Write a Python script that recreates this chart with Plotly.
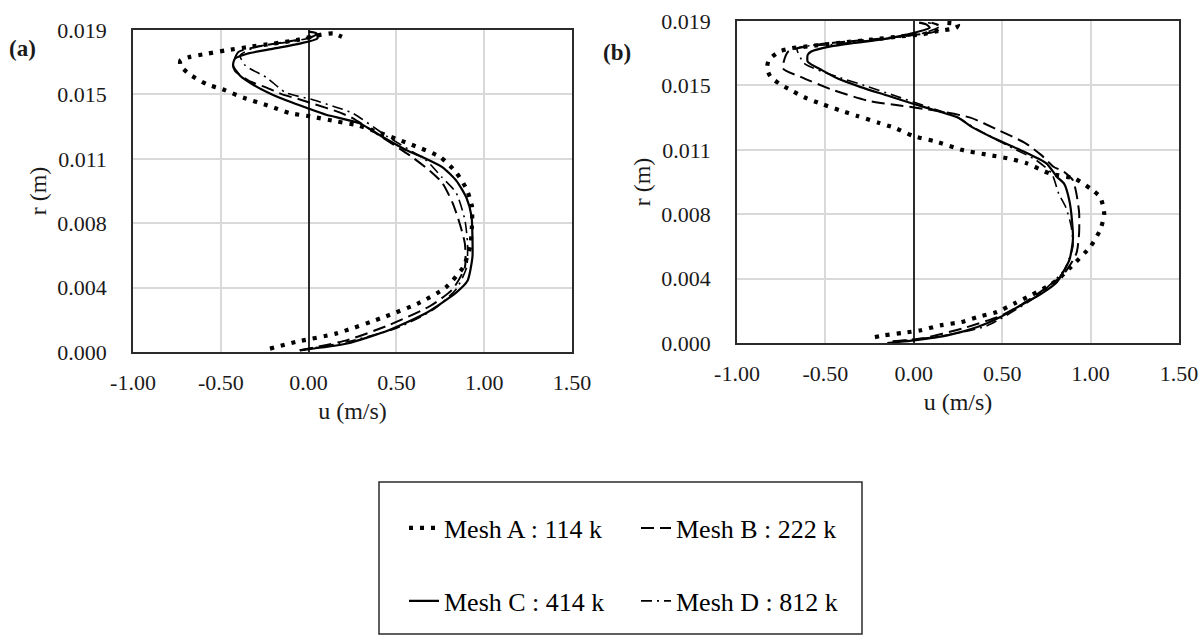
import plotly.graph_objects as go

W, H = 1203, 635

# ---------------- data: panel (a) ----------------
a_meshA_u = [-0.22, -0.07, 0.16, 0.44, 0.63, 0.78, 0.88, 0.92, 0.93, 0.93, 0.90, 0.84, 0.75, 0.57, 0.36, 0.27, 0.16,
             0.01, -0.11, -0.22, -0.37, -0.49, -0.58, -0.68, -0.73, -0.73, -0.68, -0.58, -0.47, -0.34, -0.20, -0.07,
             0.06, 0.14, 0.19]
a_meshA_r = [0.0002, 0.0006, 0.0011, 0.0021, 0.0029, 0.0038, 0.0050, 0.0062, 0.0074, 0.0086, 0.0096, 0.0106, 0.0115,
             0.0123, 0.0131, 0.0134, 0.0136, 0.0139, 0.0141, 0.0145, 0.0150, 0.0155, 0.0158, 0.0164, 0.0169, 0.0172,
             0.0174, 0.0176, 0.0178, 0.0180, 0.0182, 0.0184, 0.0187, 0.0188, 0.0186]

a_meshB_u = [-0.05, 0.22, 0.46, 0.69, 0.82, 0.89, 0.89, 0.86, 0.82, 0.76, 0.69, 0.59, 0.40, 0.25, 0.16, 0.04, -0.05,
             -0.15, -0.24, -0.34, -0.42, -0.43, -0.40, -0.30, -0.13, 0.02, 0.05, 0.02]
a_meshB_r = [0.0001, 0.0007, 0.0016, 0.0027, 0.0037, 0.0050, 0.0064, 0.0076, 0.0088, 0.0100, 0.0107, 0.0115, 0.0128,
             0.0138, 0.0142, 0.0146, 0.0149, 0.0152, 0.0156, 0.0160, 0.0166, 0.0170, 0.0177, 0.0180, 0.0183, 0.0186,
             0.0188, 0.0189]

a_meshC_u = [-0.05, 0.22, 0.46, 0.67, 0.84, 0.905, 0.933, 0.933, 0.928, 0.899, 0.842, 0.763, 0.649, 0.558, 0.42, 0.29,
             0.10, -0.01, -0.165, -0.32, -0.39, -0.43, -0.42, -0.35, -0.20, -0.05, 0.05, 0.045, 0.0]
a_meshC_r = [0.0001, 0.0005, 0.0013, 0.0023, 0.0035, 0.0042, 0.0056, 0.0068, 0.0080, 0.0091, 0.0101, 0.0109, 0.0115,
             0.0119, 0.0127, 0.0135, 0.0140, 0.0144, 0.0150, 0.0158, 0.0163, 0.0169, 0.0173, 0.0176, 0.0179, 0.0182,
             0.0185, 0.0188, 0.0189]

a_meshD_u = [-0.05, 0.22, 0.50, 0.71, 0.84, 0.90, 0.905, 0.89, 0.84, 0.76, 0.67, 0.45, 0.25, 0.14, 0.02, -0.13, -0.24,
             -0.36, -0.39, -0.30, -0.11, 0.02, 0.02]
a_meshD_r = [0.0001, 0.0006, 0.0014, 0.0025, 0.0037, 0.0050, 0.0064, 0.0078, 0.0094, 0.0103, 0.0113, 0.0127, 0.0141,
             0.0145, 0.0149, 0.0153, 0.0162, 0.0169, 0.0175, 0.0180, 0.0183, 0.0186, 0.0189]

# ---------------- data: panel (b) ----------------
b_meshA_u = [-0.22, -0.17, -0.06, 0.04, 0.15, 0.27, 0.36, 0.47, 0.57, 0.66, 0.75, 0.81, 0.89, 1.0, 1.055, 1.077, 1.055,
             1.0, 0.91, 0.77, 0.64, 0.53, 0.42, 0.27, 0.12, 0.0, -0.11, -0.20, -0.32, -0.41, -0.52, -0.62, -0.71,
             -0.76, -0.81, -0.83, -0.82, -0.76, -0.69, -0.60, -0.43, -0.24, -0.07, 0.04, 0.13, 0.24, 0.25, 0.18]
b_meshA_r = [0.00035, 0.00045, 0.0006, 0.00075, 0.00104, 0.00124, 0.00153, 0.00183, 0.00234, 0.0028, 0.0033, 0.0037,
             0.0045, 0.0057, 0.0067, 0.0076, 0.0086, 0.0091, 0.0097, 0.0100, 0.0106, 0.0109, 0.0111, 0.0114, 0.0119,
             0.0122, 0.0127, 0.0130, 0.0134, 0.0137, 0.0141, 0.0145, 0.0150, 0.0153, 0.0157, 0.0162, 0.0167, 0.0172,
             0.0174, 0.0175, 0.0177, 0.0179, 0.0181, 0.0182, 0.0184, 0.0186, 0.0188, 0.0189]

b_meshB_u = [-0.12, 0.04, 0.28, 0.49, 0.60, 0.70, 0.85, 0.92, 0.935, 0.935, 0.92, 0.90, 0.85, 0.79, 0.72, 0.63, 0.47,
             0.32, 0.13, -0.07, -0.26, -0.45, -0.64, -0.74, -0.71, -0.55, -0.36, -0.15, 0.02, 0.13, 0.15, 0.10]
b_meshB_r = [0.0001, 0.00026, 0.00087, 0.0016, 0.0022, 0.0029, 0.0041, 0.0053, 0.0065, 0.0077, 0.0088, 0.0096, 0.0101,
             0.0104, 0.0111, 0.0118, 0.0126, 0.0133, 0.0137, 0.0140, 0.0143, 0.0149, 0.0157, 0.0162, 0.0172, 0.0176,
             0.0178, 0.0180, 0.0182, 0.0184, 0.0187, 0.0189]

b_meshC_u = [-0.15, 0.0, 0.19, 0.36, 0.49, 0.60, 0.72, 0.81, 0.88, 0.90, 0.895, 0.88, 0.85, 0.81, 0.75, 0.60, 0.45,
             0.32, 0.25, 0.13, 0.0, -0.15, -0.30, -0.43, -0.52, -0.60, -0.60, -0.58, -0.47, -0.34, -0.19, -0.04,
             0.09, 0.07, 0.03]
b_meshC_r = [0.0000, 0.00016, 0.00045, 0.00094, 0.00153, 0.0022, 0.0029, 0.0036, 0.0049, 0.0061, 0.0072, 0.0084,
             0.0094, 0.0098, 0.0106, 0.0114, 0.0121, 0.0128, 0.0133, 0.0137, 0.0141, 0.0146, 0.0151, 0.0156, 0.0161,
             0.0166, 0.0170, 0.0172, 0.0175, 0.0177, 0.0179, 0.0182, 0.0186, 0.0188, 0.0189]

b_meshD_u = [-0.10, 0.15, 0.41, 0.70, 0.85, 0.90, 0.89, 0.86, 0.82, 0.78, 0.69, 0.54, 0.36, 0.23, 0.06, -0.11, -0.28,
             -0.43, -0.62, -0.66, -0.47, -0.30, -0.12, 0.06, 0.15, 0.08]
b_meshD_r = [0.0001, 0.0004, 0.0010, 0.0028, 0.0043, 0.0057, 0.0069, 0.0080, 0.0088, 0.0100, 0.0108, 0.0116, 0.0126,
             0.0134, 0.0140, 0.0146, 0.0152, 0.0157, 0.0165, 0.0174, 0.0176, 0.0178, 0.0180, 0.0183, 0.0187, 0.0189]

mesh_names = ["Mesh A : 114 k", "Mesh B : 222 k", "Mesh C : 414 k", "Mesh D : 812 k"]
x_tickvals = [-1.0, -0.5, 0.0, 0.5, 1.0, 1.5]
x_ticktext = ["-1.00", "-0.50", "0.00", "0.50", "1.00", "1.50"]
y_tickvals = [0.0, 0.0038, 0.0076, 0.0114, 0.0152, 0.019]
y_ticktext = ["0.000", "0.004", "0.008", "0.011", "0.015", "0.019"]

# ---------------- styles ----------------
FONT = "Liberation Serif, Times New Roman, serif"
INK = "#1a1a1a"
styles = [
    dict(color="black", width=4.2, dash="4px,7px"),
    dict(color="black", width=2.0, dash="13px,6px"),
    dict(color="black", width=2.2, dash="solid"),
    dict(color="black", width=1.6, dash="11px,5px,2px,5px"),
]
legend_of = ["legend", "legend", "legend2", "legend2"]

fig = go.Figure()
panels = [
    ("x", "y", [(a_meshA_u, a_meshA_r), (a_meshB_u, a_meshB_r), (a_meshC_u, a_meshC_r), (a_meshD_u, a_meshD_r)], True),
    ("x2", "y2", [(b_meshA_u, b_meshA_r), (b_meshB_u, b_meshB_r), (b_meshC_u, b_meshC_r), (b_meshD_u, b_meshD_r)], False),
]
for xa, ya, series, show in panels:
    for i, (u, r) in enumerate(series):
        fig.add_trace(go.Scatter(
            x=u, y=r, mode="lines", name=mesh_names[i], line=styles[i],
            xaxis=xa, yaxis=ya, showlegend=show, legend=legend_of[i],
            line_shape="spline", line_smoothing=0.6,
        ))

def px_x(p):
    return p / W

def px_y(p):
    return 1 - p / H

common_x = dict(
    range=[-1.0, 1.5], tickvals=x_tickvals, ticktext=x_ticktext,
    showgrid=True, gridcolor="#d9d9d9", gridwidth=1.5,
    zeroline=True, zerolinecolor="#2b2b2b", zerolinewidth=1.6,
    showline=True, mirror=True, linecolor="#2b2b2b", linewidth=1.5,
    ticks="", ticklabelstandoff=10, automargin=False,
    tickfont=dict(family=FONT, size=22, color=INK),
    title=dict(text="u (m/s)", font=dict(family=FONT, size=24, color=INK), standoff=8),
)
common_y = dict(
    range=[0, 0.019], tickvals=y_tickvals, ticktext=y_ticktext,
    showgrid=True, gridcolor="#d9d9d9", gridwidth=1.5, zeroline=False,
    showline=True, mirror=True, linecolor="#2b2b2b", linewidth=1.5,
    ticks="", ticklabelstandoff=20, automargin=False,
    tickfont=dict(family=FONT, size=22, color=INK),
    title=dict(text="r (m)", font=dict(family=FONT, size=24, color=INK), standoff=4),
)

fig.update_layout(
    width=W, height=H,
    margin=dict(l=0, r=0, t=0, b=0),
    paper_bgcolor="white", plot_bgcolor="white",
    font=dict(family=FONT, color=INK),
    xaxis=dict(common_x, domain=[px_x(133), px_x(572)], anchor="y"),
    yaxis=dict(common_y, domain=[px_y(352), px_y(30)], anchor="x"),
    xaxis2=dict(common_x, domain=[px_x(737), px_x(1179)], anchor="y2"),
    yaxis2=dict(common_y, domain=[px_y(343), px_y(21)], anchor="x2"),
    legend=dict(
        orientation="h", x=px_x(404), y=px_y(528), xanchor="left", yanchor="middle",
        entrywidth=187, entrywidthmode="pixels",
        font=dict(family=FONT, size=26, color="black"), bgcolor="rgba(0,0,0,0)",
    ),
    legend2=dict(
        orientation="h", x=px_x(404), y=px_y(601), xanchor="left", yanchor="middle",
        entrywidth=187, entrywidthmode="pixels",
        font=dict(family=FONT, size=26, color="black"), bgcolor="rgba(0,0,0,0)",
    ),
    shapes=[dict(type="rect", xref="paper", yref="paper",
                 x0=px_x(379), x1=px_x(862), y0=px_y(634), y1=px_y(482),
                 line=dict(color="#2b2b2b", width=1.5), fillcolor="rgba(0,0,0,0)")],
    annotations=[
        dict(text="<b>(a)</b>", x=px_x(7), y=px_y(48), xref="paper", yref="paper",
             xanchor="left", yanchor="middle", showarrow=False,
             font=dict(family=FONT, size=23, color=INK)),
        dict(text="<b>(b)</b>", x=px_x(601), y=px_y(53), xref="paper", yref="paper",
             xanchor="left", yanchor="middle", showarrow=False,
             font=dict(family=FONT, size=23, color=INK)),
    ],
)

fig.write_html("out.html")
